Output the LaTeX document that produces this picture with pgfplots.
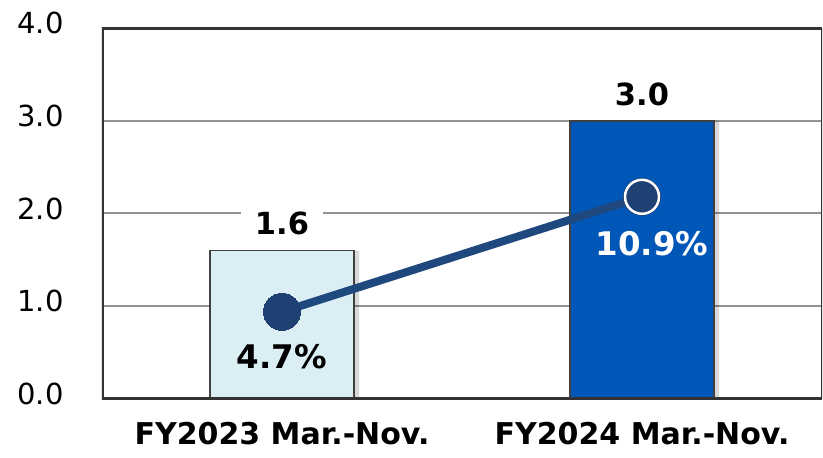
\documentclass[border=0pt]{standalone}
\usepackage{pgfplots}
\pgfplotsset{compat=1.18}
\usepackage{fontspec}
\setmainfont{DejaVu Sans}

\definecolor{lightbar}{RGB}{218,238,243}
\definecolor{darkbar}{RGB}{0,87,184}
\definecolor{barline}{RGB}{64,64,64}
\definecolor{frame}{RGB}{51,51,51}
\definecolor{linec}{RGB}{31,72,126}
\definecolor{markc}{RGB}{31,64,115}

\tikzset{lbl/.style={font=\fontsize{30.5}{36}\selectfont\bfseries},
         pct/.style={font=\fontsize{32.5}{38}\selectfont\bfseries}}

\begin{document}
\begin{tikzpicture}
\pgfplotsset{
  base/.style={
    width=720pt, height=371pt, scale only axis,
    xmin=-0.5, xmax=1.5, xtick={0,1},
    /pgf/number format/assume math mode=true,
  },
}
% bars, primary axis
\begin{axis}[
    base,
    ymin=0, ymax=4,
    ytick={0,1,2,3,4},
    ymajorgrids,
    grid style={color=gray!85, line width=2pt},
    axis line style={draw=none},
    major tick length=0pt,
    xticklabels={FY2023 Mar.-Nov., FY2024 Mar.-Nov.},
    xticklabel style={font=\fontsize{30}{34}\selectfont\bfseries, yshift=-20pt},
    yticklabel style={font=\fontsize{29}{32}\selectfont, xshift=-35pt, yshift=5pt},
    yticklabel={\pgfmathprintnumber[fixed,fixed zerofill,precision=1]{\tick}},
]
\coordinate (sw) at (rel axis cs:0,0);
\coordinate (ne) at (rel axis cs:1,1);
% soft shadow on the right of the bars
\addplot[ybar, bar shift=5pt, bar width=144pt, fill=black, opacity=0.15, draw=none]
  coordinates {(0,1.6) (1,3.0)};
\addplot[ybar, bar shift=0pt, bar width=144pt, fill=lightbar, draw=barline, line width=1.6pt,
  point meta=y, nodes near coords,
  nodes near coords style={lbl, text=black, fill=white, inner xsep=14pt, inner ysep=3pt,
    anchor=south, yshift=12pt,
    /pgf/number format/.cd, fixed, fixed zerofill, precision=1}]
  coordinates {(0,1.6)};
\addplot[ybar, bar shift=0pt, bar width=144pt, fill=darkbar, draw=barline, line width=1.6pt,
  point meta=y, nodes near coords,
  nodes near coords style={lbl, text=black, fill=white, inner xsep=14pt, inner ysep=3pt,
    anchor=south, yshift=11pt,
    /pgf/number format/.cd, fixed, fixed zerofill, precision=1}]
  coordinates {(1,3.0)};
% frame: heavy on left, top and bottom, thin on the right
\draw[frame, line width=5pt, line join=miter]
  (rel axis cs:1,1) -- (rel axis cs:0,1) -- (rel axis cs:0,0) -- (rel axis cs:1,0);
\draw[frame, line width=1.5pt] (rel axis cs:1,0) -- (rel axis cs:1,1);
\end{axis}

% growth rate, secondary axis (0-20 %)
\begin{axis}[
    base,
    ymin=0, ymax=20,
    hide axis,
]
\addplot[color=linec, line width=8pt, mark=*, mark size=18.5pt,
  mark options={fill=markc, draw=markc, line width=0pt}]
  coordinates {(0,4.7) (1,10.9)};
\addplot[only marks, mark=*, mark size=17pt,
  mark options={fill=markc, draw=white, line width=2.5pt}]
  coordinates {(1,10.9)};
\addplot[draw=none, point meta=y,
  nodes near coords={\pgfmathprintnumber[fixed,precision=1]{\pgfplotspointmeta}\%},
  nodes near coords style={pct, text=black, anchor=center, yshift=-45pt}]
  coordinates {(0,4.7)};
\addplot[draw=none, point meta=y,
  nodes near coords={\pgfmathprintnumber[fixed,precision=1]{\pgfplotspointmeta}\%},
  nodes near coords style={pct, text=white, anchor=center, xshift=10pt, yshift=-47pt}]
  coordinates {(1,10.9)};
\end{axis}
\pgfresetboundingbox
\path ([shift={(-102pt,-58pt)}]sw) rectangle ([shift={(1pt,28pt)}]ne);
\end{tikzpicture}
\end{document}
